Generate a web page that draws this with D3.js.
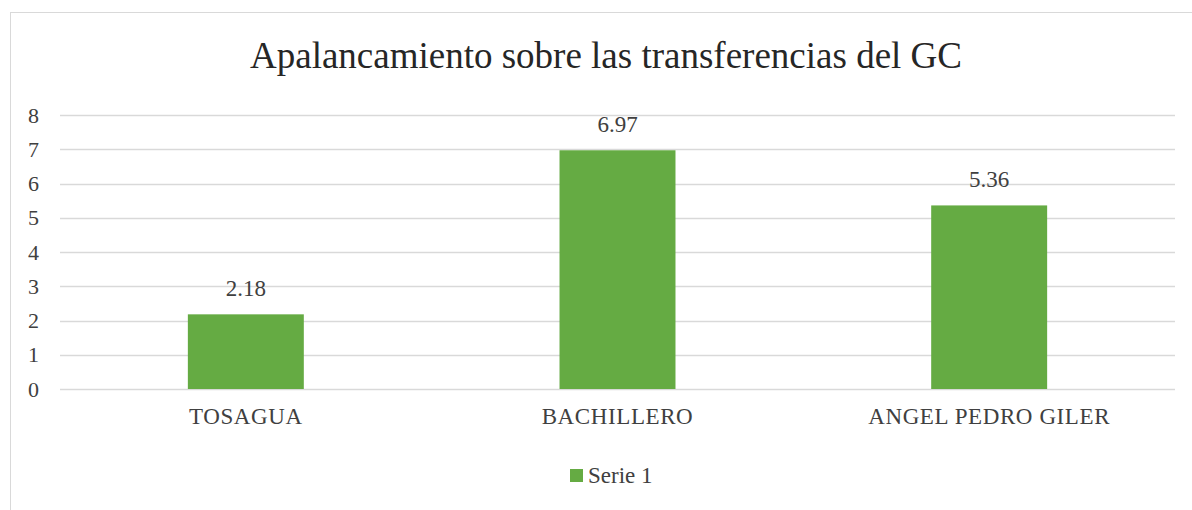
<!DOCTYPE html>
<html>
<head>
<meta charset="utf-8">
<script src="https://cdn.jsdelivr.net/npm/d3@7"></script>
<style>
  html, body { margin: 0; padding: 0; background: #fff; }
</style>
</head>
<body>
<svg id="chart" width="1192" height="510"></svg>
<script>
// Chart data
const categories = ["TOSAGUA", "BACHILLERO", "ANGEL PEDRO GILER"];
const serie1 = [2.18, 6.97, 5.36];
const yTicks = [0, 1, 2, 3, 4, 5, 6, 7, 8];
const seriesName = "Serie 1";
const title = "Apalancamiento sobre las transferencias del GC";

const svg = d3.select("#chart");
const W = 1192, H = 510;
const green = "#65ab43";
const textColor = "#404040";
const FONT = "'Liberation Serif', 'Times New Roman', serif";

// Outer frame
svg.append("rect")
  .attr("x", 10.5).attr("y", 12.5)
  .attr("width", W + 20).attr("height", H + 20)
  .attr("fill", "#fff").attr("stroke", "#d9d9d9").attr("stroke-width", 1);

const plot = { left: 60, right: 1175, top: 115, bottom: 389 };

const x = d3.scaleBand().domain(categories).range([plot.left, plot.right]).padding(0);
const y = d3.scaleLinear().domain([0, 8]).range([plot.bottom, plot.top]);
const barW = x.bandwidth() * 0.312;

// Title
svg.append("text")
  .attr("x", 606).attr("y", 68)
  .attr("text-anchor", "middle")
  .attr("font-size", 37).attr("fill", "#262626")
  .style("font-family", FONT)
  .text(title);

// Gridlines
svg.append("g").selectAll("line").data(yTicks).join("line")
  .attr("x1", plot.left).attr("x2", plot.right)
  .attr("y1", d => Math.round(y(d)) + 0.5).attr("y2", d => Math.round(y(d)) + 0.5)
  .attr("stroke", "#d9d9d9").attr("stroke-width", 1.5);

// Y axis labels
const yAxis = d3.axisLeft(y).tickValues(yTicks).tickSize(0).tickPadding(0).tickFormat(d3.format("d"));
const gy = svg.append("g").attr("transform", `translate(39,0)`).call(yAxis);
gy.select(".domain").remove();
gy.selectAll("text").attr("font-size", 22).attr("fill", textColor).style("font-family", FONT);

// Bars
svg.append("g").selectAll("rect").data(serie1).join("rect")
  .attr("x", (d, i) => x(categories[i]) + x.bandwidth() / 2 - barW / 2)
  .attr("width", barW)
  .attr("y", d => y(d))
  .attr("height", d => y(0) - y(d))
  .attr("fill", green);

// Value labels
svg.append("g").selectAll("text").data(serie1).join("text")
  .attr("x", (d, i) => x(categories[i]) + x.bandwidth() / 2)
  .attr("y", d => y(d) - 18)
  .attr("text-anchor", "middle")
  .attr("font-size", 23).attr("fill", textColor)
  .style("font-family", FONT)
  .text(d => d.toFixed(2));

// Category axis labels
const xAxis = d3.axisBottom(x).tickSize(0).tickPadding(0);
const gx = svg.append("g").attr("transform", `translate(0,${plot.bottom + 19})`).call(xAxis);
gx.select(".domain").remove();
gx.selectAll("text").attr("font-size", 23).attr("fill", textColor)
  .attr("letter-spacing", 0.6).style("font-family", FONT);

// Legend
const lg = svg.append("g").attr("transform", "translate(570,469)");
lg.append("rect").attr("width", 13).attr("height", 13).attr("fill", green);
lg.append("text").attr("x", 18).attr("y", 14)
  .attr("font-size", 23).attr("fill", textColor)
  .style("font-family", FONT)
  .text(seriesName);
</script>
</body>
</html>
